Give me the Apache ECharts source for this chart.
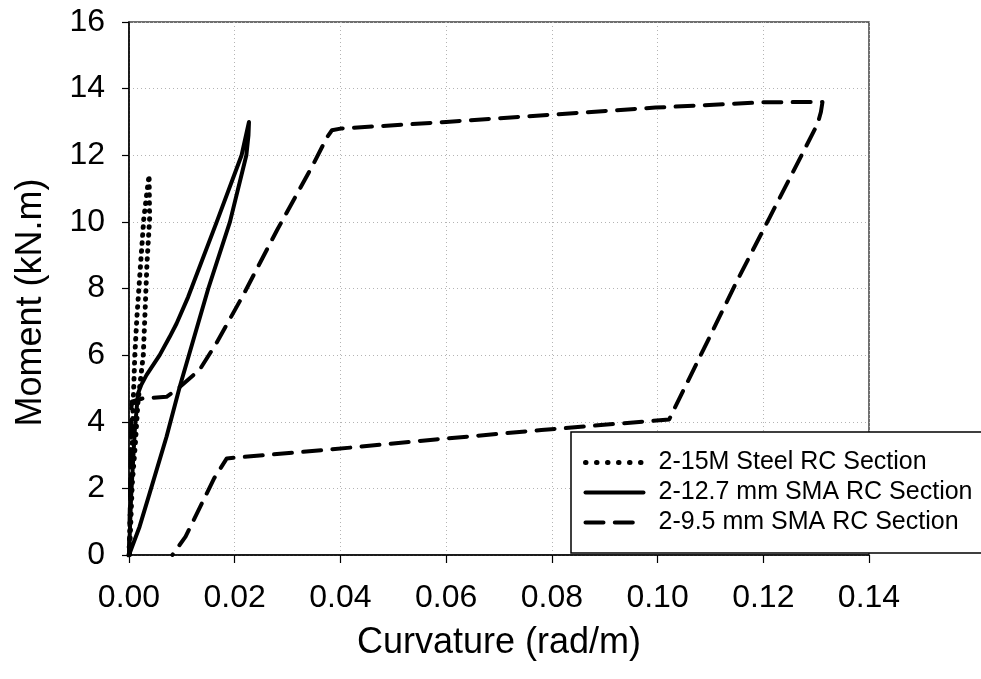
<!DOCTYPE html>
<html>
<head>
<meta charset="utf-8">
<script src="https://cdn.jsdelivr.net/npm/echarts@6/dist/echarts.min.js"></script>
<style>
  html, body { margin: 0; padding: 0; background: #fff; }
  #chart { width: 981px; height: 679px; }
</style>
</head>
<body>
<div id="chart"></div>
<script>
// curvature (rad/m) / moment (kN.m)
var steelX = [0, 0.0004, 0.0006, 0.0008, 0.0011, 0.0015, 0.0022, 0.0028, 0.0034, 0.0038, 0.0039, 0.0034, 0.0030, 0.0027, 0.0017, 0.0012, 0.0006, 0.0001]
var steelY = [0, 2.1, 3.35, 4.6, 6.0, 7.15, 8.75, 10.1, 10.9, 11.4, 10.1, 8.75, 7.15, 6.0, 4.6, 3.35, 2.1, 0]

var sma127X = [0, 0.0004, 0.0011, 0.0017, 0.0023, 0.0033, 0.0058, 0.0077, 0.0090, 0.0112, 0.0166, 0.0213, 0.0227, 0.0226, 0.0222, 0.0191, 0.0150, 0.0096, 0.0071, 0.0039, 0.0020, 0]
var sma127Y = [0, 1.75, 3.75, 4.85, 5.1, 5.4, 6.0, 6.55, 6.95, 7.75, 10.0, 12.0, 13.0, 12.6, 12.0, 10.0, 8.0, 5.05, 3.55, 1.85, 0.85, 0]

var sma95X = [0, 0.0005, 0.0026, 0.0071, 0.0093, 0.0134, 0.0165, 0.0216, 0.0280, 0.0346, 0.0375, 0.0384, 0.0400, 0.0600, 0.0800, 0.0996, 0.1198, 0.1312, 0.1309, 0.1303, 0.1274, 0.1211, 0.1151, 0.1091, 0.1032, 0.1022, 0.0780, 0.0580, 0.0384, 0.0185, 0.0161, 0.0107, 0.0082]
var sma95Y = [0, 4.6, 4.7, 4.75, 5.0, 5.57, 6.35, 7.8, 9.75, 11.65, 12.55, 12.75, 12.8, 13.0, 13.22, 13.43, 13.59, 13.6, 13.3, 12.95, 12.05, 10.1, 8.25, 6.3, 4.4, 4.07, 3.75, 3.47, 3.17, 2.9, 2.3, 0.55, 0]

var seriesNames = ['2-15M Steel RC Section', '2-12.7 mm SMA RC Section', '2-9.5 mm SMA RC Section']

function pairs(xs, ys) {
  return xs.map(function (x, i) { return [x, ys[i]] })
}

var font = 'Arial, "Liberation Sans", sans-serif'
var chart = echarts.init(document.getElementById('chart'))

chart.setOption({
  animation: false,
  textStyle: { fontFamily: font, color: '#000' },
  grid: {
    left: 129,
    right: 112,
    top: 22,
    bottom: 124,
    show: true,
    borderColor: '#404040',
    borderWidth: 1.5
  },
  legend: {
    left: 571,
    top: 432,
    orient: 'vertical',
    backgroundColor: '#fff',
    borderColor: '#000',
    borderWidth: 1.5,
    borderRadius: 0,
    padding: [18, 10, 18, 12],
    itemWidth: 58,
    itemHeight: 20,
    itemGap: 5,
    // hide the circle that line series put in the middle of the legend icon
    itemStyle: { color: 'rgba(0,0,0,0)', borderWidth: 0, opacity: 0 },
    lineStyle: { color: '#000', width: 4, cap: 'round' },
    textStyle: { fontFamily: font, fontSize: 25, lineHeight: 25, color: '#000', padding: [0, 0, 0, 10] },
    data: [
      { name: seriesNames[0], lineStyle: { type: [0.5, 10.5], cap: 'round', width: 5 } },
      { name: seriesNames[1], lineStyle: { type: 'solid' } },
      { name: seriesNames[2], lineStyle: { type: [18, 11.3] } }
    ]
  },
  xAxis: {
    type: 'value',
    min: 0,
    max: 0.14,
    interval: 0.02,
    name: 'Curvature (rad/m)',
    nameLocation: 'middle',
    nameGap: 70,
    nameTextStyle: { fontFamily: font, fontSize: 36, color: '#000' },
    axisLine: { show: true, onZero: false, lineStyle: { color: '#000', width: 1.5 } },
    axisTick: { show: true, length: 8, lineStyle: { color: '#000', width: 1.2 } },
    axisLabel: {
      fontFamily: font, fontSize: 32, color: '#000', margin: 27,
      formatter: function (v) { return v.toFixed(2) }
    },
    splitLine: { show: true, lineStyle: { color: '#b4b4b4', type: [1, 3], width: 1 } }
  },
  yAxis: {
    type: 'value',
    min: 0,
    max: 16,
    interval: 2,
    name: 'Moment (kN.m)',
    nameLocation: 'middle',
    nameGap: 80,
    nameTextStyle: { fontFamily: font, fontSize: 36, color: '#000', padding: [0, 28, 0, 0] },
    axisLine: { show: true, onZero: false, lineStyle: { color: '#000', width: 1.5 } },
    axisTick: { show: true, length: 7, lineStyle: { color: '#000', width: 1.2 } },
    axisLabel: { fontFamily: font, fontSize: 32, color: '#000', margin: 24 },
    splitLine: { show: true, lineStyle: { color: '#b4b4b4', type: [1, 3], width: 1 } }
  },
  series: [
    {
      name: seriesNames[0],
      type: 'line',
      symbol: 'none',
      data: pairs(steelX, steelY),
      lineStyle: { color: '#000', width: 5, type: [0.5, 7.5], cap: 'round' }
    },
    {
      name: seriesNames[1],
      type: 'line',
      symbol: 'none',
      data: pairs(sma127X, sma127Y),
      lineStyle: { color: '#000', width: 4, type: 'solid', cap: 'round', join: 'round' }
    },
    {
      name: seriesNames[2],
      type: 'line',
      symbol: 'none',
      data: pairs(sma95X, sma95Y),
      lineStyle: { color: '#000', width: 4, type: [18, 11.3], cap: 'round', join: 'round' }
    }
  ]
})
</script>
</body>
</html>
